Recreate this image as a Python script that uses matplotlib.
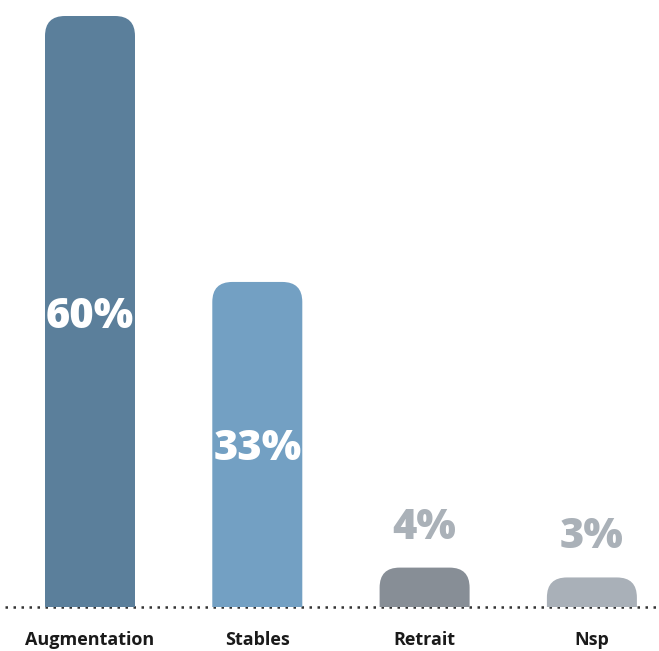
import matplotlib.pyplot as plt
from matplotlib.patches import FancyBboxPatch

categories = ["Augmentation", "Stables", "Retrait", "Nsp"]
values = [60, 33, 4, 3]
labels = ["60%", "33%", "4%", "3%"]
colors = ["#5b7f9b", "#73a0c3", "#878e96", "#a9b0b8"]
inside = [True, True, False, False]

W, H, DPI = 659, 651, 100
fig = plt.figure(figsize=(W / DPI, H / DPI), dpi=DPI)

base_px = 44      # baseline height above bottom edge
top_px = 16       # gap above the tallest bar
ax = fig.add_axes([0, base_px / H, 1, (H - base_px - top_px) / H])
ax.set_ylim(0, max(values))

step_px = 167.3
first_px = 90
ax.set_xlim(-first_px / step_px, (W - first_px) / step_px)
ax.axis("off")

px_x = step_px            # pixels per x unit
px_y = (H - base_px - top_px) / max(values)
bar_w = 90 / px_x
r_px = 20
rx = r_px / px_x
ry = r_px / px_y

for i, (v, c) in enumerate(zip(values, colors)):
    # rounded box that starts below the baseline, so only the top corners show
    box = FancyBboxPatch((i - bar_w / 2, -ry * 2), bar_w, v + ry * 2,
                         boxstyle=f"round,pad=0,rounding_size={rx}",
                         mutation_aspect=ry / rx,
                         facecolor=c, edgecolor="none", zorder=3)
    ax.add_patch(box)

ax.plot([5 / px_x - first_px / px_x, (W - 2 - first_px) / px_x], [0, 0],
        linestyle=(0, (1, 2.2)), color="#333333", linewidth=1.8,
        zorder=2, clip_on=False, solid_capstyle="butt")

pt = 72 / DPI
num_font = dict(family="Open Sans", fontweight="heavy", fontsize=30)
for i, (v, lab, ins) in enumerate(zip(values, labels, inside)):
    if ins:
        ax.annotate(lab, (i, v / 2), xytext=(0, -5 * pt),
                    textcoords="offset points", ha="center", va="center",
                    color="white", zorder=4, **num_font)
    else:
        ax.annotate(lab, (i, v), xytext=(0, 40 * pt),
                    textcoords="offset points", ha="center", va="center",
                    color="#aab1b8", zorder=4, **num_font)

for i, cat in enumerate(categories):
    ax.annotate(cat, (i, 0), xytext=(0, -33 * pt),
                textcoords="offset points", ha="center", va="center",
                family="Open Sans", fontweight="bold", fontsize=13,
                color="#1a1a1a", annotation_clip=False)

fig.savefig("out.png", dpi=DPI)
